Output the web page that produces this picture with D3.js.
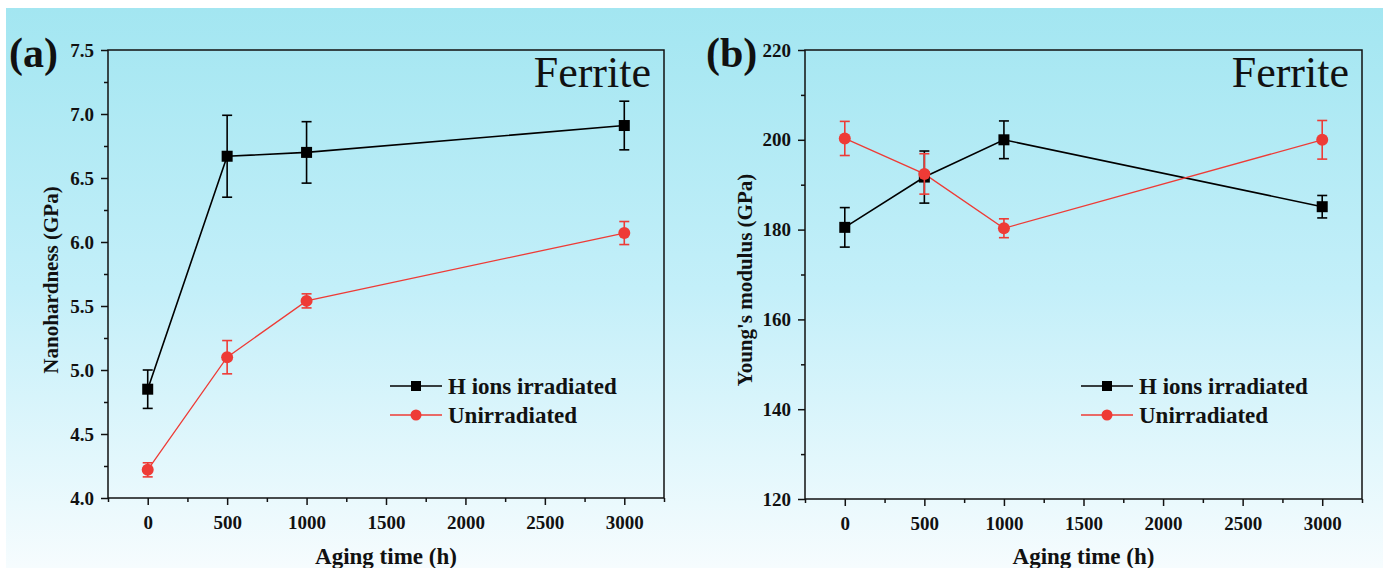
<!DOCTYPE html>
<html><head><meta charset="utf-8">
<script src="https://cdn.jsdelivr.net/npm/d3@7"></script>
<style>body{margin:0;background:#fff}svg{display:block}text{font-family:"Liberation Serif","Times New Roman",serif}</style>
</head><body>
<svg id="c" width="1387" height="568"></svg>
<script>
const agingTimes = [0, 500, 1000, 3000];
const xTicks = [0, 500, 1000, 1500, 2000, 2500, 3000];
const seriesNames = ["H ions irradiated", "Unirradiated"];
// Panel (a): Nanohardness (GPa)
const hardIrr = [4.85, 6.67, 6.70, 6.91];
const hardIrrErr = [0.15, 0.32, 0.24, 0.19];
const hardUnirr = [4.22, 5.10, 5.54, 6.07];
const hardUnirrErr = [0.055, 0.13, 0.055, 0.09];
const hardTicks = [4.0, 4.5, 5.0, 5.5, 6.0, 6.5, 7.0, 7.5];
// Panel (b): Young's modulus (GPa)
const modIrr = [180.5, 191.7, 200.0, 185.1];
const modIrrErr = [4.4, 5.8, 4.2, 2.5];
const modUnirr = [200.3, 192.4, 180.3, 200.0];
const modUnirrErr = [3.8, 4.5, 2.1, 4.3];
const modTicks = [120, 140, 160, 180, 200, 220];

const svg = d3.select("#c");
const defs = svg.append("defs");
const grad = defs.append("linearGradient").attr("id","bg").attr("x1",0).attr("y1",0).attr("x2",0).attr("y2",1);
grad.append("stop").attr("offset","0%").attr("stop-color","#a3e6f1");
grad.append("stop").attr("offset","50%").attr("stop-color","#c3eff9");
grad.append("stop").attr("offset","100%").attr("stop-color","#f6fcfe");
svg.append("rect").attr("x",6).attr("y",8).attr("width",1377).attr("height",560).attr("fill","url(#bg)");

const BLACK = "#000", RED = "#ee3b36";
const FONT = "'Liberation Serif','Times New Roman',serif";

function panel(o) {
  const g = svg.append("g");
  const x = d3.scaleLinear().domain([-250, 3250]).range([o.left, o.right]);
  const y = d3.scaleLinear().domain(o.yDomain).range([o.bottom, o.top]);
  g.append("rect").attr("x",o.left).attr("y",o.top).attr("width",o.right-o.left).attr("height",o.bottom-o.top)
    .attr("fill","none").attr("stroke","#111").attr("stroke-width",1.5);
  const xMinor = d3.range(-250, 3251, 250).filter(v => !xTicks.includes(v));
  g.append("g").attr("transform",`translate(0,${o.bottom})`)
    .call(d3.axisBottom(x).tickValues(xMinor).tickSize(4).tickFormat(""))
    .call(a => { a.select(".domain").remove(); a.selectAll("line").attr("stroke","#111").attr("stroke-width",1.5); });
  g.append("g").attr("transform",`translate(0,${o.bottom})`)
    .call(d3.axisBottom(x).tickValues(xTicks).tickSize(7).tickPadding(11).tickFormat(d3.format("d")))
    .call(a => { a.select(".domain").remove(); a.selectAll("line").attr("stroke","#111").attr("stroke-width",1.5);
      a.selectAll("text").attr("font-size",19).attr("font-weight","bold").attr("fill","#111").attr("font-family",FONT); });
  const yMinor = o.yTicks.slice(0,-1).map((v,i) => (v + o.yTicks[i+1]) / 2);
  g.append("g").attr("transform",`translate(${o.left},0)`)
    .call(d3.axisLeft(y).tickValues(yMinor).tickSize(4).tickFormat(""))
    .call(a => { a.select(".domain").remove(); a.selectAll("line").attr("stroke","#111").attr("stroke-width",1.5); });
  g.append("g").attr("transform",`translate(${o.left},0)`)
    .call(d3.axisLeft(y).tickValues(o.yTicks).tickSize(7).tickPadding(7).tickFormat(o.yFormat))
    .call(a => { a.select(".domain").remove(); a.selectAll("line").attr("stroke","#111").attr("stroke-width",1.5);
      a.selectAll("text").attr("font-size",19).attr("font-weight","bold").attr("fill","#111").attr("font-family",FONT); });
  g.append("text").attr("x",(o.left+o.right)/2).attr("y",564).attr("text-anchor","middle")
    .attr("font-size",23).attr("font-weight","bold").attr("fill","#111").text("Aging time (h)");
  g.append("text").attr("transform",`translate(${o.ylabX},280) rotate(-90)`)
    .attr("text-anchor","middle").attr("font-size",21).attr("font-weight","bold").attr("fill","#111").text(o.ylabel);
  g.append("text").attr("x",o.letterX).attr("y",67).attr("font-size",42).attr("font-weight","bold").attr("fill","#111").text(o.letter);
  g.append("text").attr("x",o.right-13).attr("y",87).attr("text-anchor","end").attr("font-size",44).attr("fill","#111").text("Ferrite");

  const series = [
    {vals:o.s1, err:o.e1, color:BLACK, lw:1.6, shape:"square"},
    {vals:o.s2, err:o.e2, color:RED, lw:1.3, shape:"circle"}
  ];
  const line = d3.line().x((d,i)=>x(agingTimes[i])).y(d=>y(d));
  series.forEach(s => {
    g.append("path").datum(s.vals).attr("d",line).attr("fill","none").attr("stroke",s.color).attr("stroke-width",s.lw);
  });
  series.forEach(s => {
    s.vals.forEach((v,i) => {
      const cx = x(agingTimes[i]);
      const eb = g.append("g").attr("stroke",s.color).attr("stroke-width",1.6).attr("fill","none");
      eb.append("line").attr("x1",cx).attr("x2",cx).attr("y1",y(v+s.err[i])).attr("y2",y(v-s.err[i]));
      eb.append("line").attr("x1",cx-5).attr("x2",cx+5).attr("y1",y(v+s.err[i])).attr("y2",y(v+s.err[i]));
      eb.append("line").attr("x1",cx-5).attr("x2",cx+5).attr("y1",y(v-s.err[i])).attr("y2",y(v-s.err[i]));
      if (s.shape === "square") g.append("rect").attr("x",cx-5.5).attr("y",y(v)-5.5).attr("width",11).attr("height",11).attr("fill",s.color);
      else g.append("circle").attr("cx",cx).attr("cy",y(v)).attr("r",6).attr("fill",s.color);
    });
  });
  series.forEach((s, si) => {
    const ly = o.legY + si*29;
    g.append("line").attr("x1",o.legX).attr("x2",o.legX+52).attr("y1",ly).attr("y2",ly).attr("stroke",s.color).attr("stroke-width",s.lw);
    const mx = o.legX + 26;
    if (s.shape === "square") g.append("rect").attr("x",mx-5).attr("y",ly-5).attr("width",10).attr("height",10).attr("fill",s.color);
    else g.append("circle").attr("cx",mx).attr("cy",ly).attr("r",5.5).attr("fill",s.color);
    g.append("text").attr("x",o.legX+58).attr("y",ly+8).attr("font-size",23).attr("font-weight","bold").attr("fill","#111").text(seriesNames[si]);
  });
}

panel({left:108, right:664, top:50, bottom:498, yDomain:[4.0,7.5], yTicks:hardTicks, yFormat:d3.format(".1f"),
  ylabel:"Nanohardness (GPa)", ylabX:58, letter:"(a)", letterX:9,
  s1:hardIrr, e1:hardIrrErr, s2:hardUnirr, e2:hardUnirrErr, legX:390, legY:386});
panel({left:805, right:1362, top:50, bottom:499, yDomain:[120,220], yTicks:modTicks, yFormat:d3.format("d"),
  ylabel:"Young's modulus (GPa)", ylabX:752, letter:"(b)", letterX:706,
  s1:modIrr, e1:modIrrErr, s2:modUnirr, e2:modUnirrErr, legX:1081, legY:386});
</script>
</body></html>
